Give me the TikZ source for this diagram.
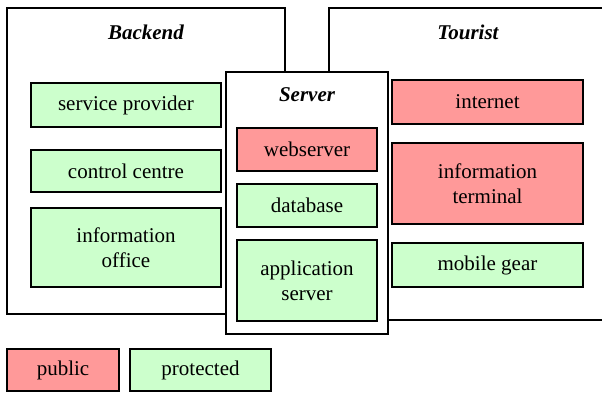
\documentclass[tikz,border=0pt]{standalone}
\usepackage{fontspec}
\setmainfont{Liberation Serif}
\definecolor{pubred}{HTML}{FF9999}
\definecolor{protgreen}{HTML}{CCFFCC}
\begin{document}
\begin{tikzpicture}[x=1pt,y=-1pt,
  font=\fontsize{21}{25}\selectfont,
  group/.style={draw=black,line width=1.3pt,fill=white,rectangle,inner sep=0pt},
  title/.style={font=\fontsize{21}{25}\selectfont\bfseries\itshape},
  item/.style={draw=black,line width=1.5pt,rectangle,inner sep=0pt,align=center},
  pub/.style={item,fill=pubred},
  prot/.style={item,fill=protgreen}]
\useasboundingbox (0,0) rectangle (602,392);
\clip (0,0) rectangle (602,392);

% outer groups
\node[group,minimum width=278pt,minimum height=306pt] (backend) at (146,161) {};
\node[group,minimum width=300pt,minimum height=312pt] (tourist) at (479,164) {};
\node[title] (backendT) at (146,32) {Backend};
\node[title] (touristT) at (468,32) {Tourist};

% server group drawn on top
\node[group,minimum width=162pt,minimum height=262pt] (server) at (307,203) {};
\node[title] (serverT) at (307,95) {Server};

% backend items
\node[prot,minimum width=190pt,minimum height=44pt] (sp) at (126,105) {service provider};
\node[prot,minimum width=190pt,minimum height=42pt] (cc) at (126,171) {control centre};
\node[prot,minimum width=190pt,minimum height=79pt] (io) at (126,247.5) {information\\office};

% server items
\node[pub,minimum width=140pt,minimum height=43pt] (ws) at (307,149.5) {webserver};
\node[prot,minimum width=140pt,minimum height=43pt] (db) at (307,205.5) {database};
\node[prot,minimum width=140pt,minimum height=81pt] (as) at (307,280.5) {application\\server};

% tourist items
\node[pub,minimum width=191pt,minimum height=44pt] (in) at (487.5,102) {internet};
\node[pub,minimum width=191pt,minimum height=81pt] (it) at (487.5,183.5) {information\\terminal};
\node[prot,minimum width=191pt,minimum height=44pt] (mg) at (487.5,265) {mobile gear};

% legend
\node[pub,minimum width=112pt,minimum height=42pt] (lpub) at (63,370) {public};
\node[prot,minimum width=141pt,minimum height=42pt] (lprot) at (200.5,370) {protected};
\end{tikzpicture}
\end{document}
